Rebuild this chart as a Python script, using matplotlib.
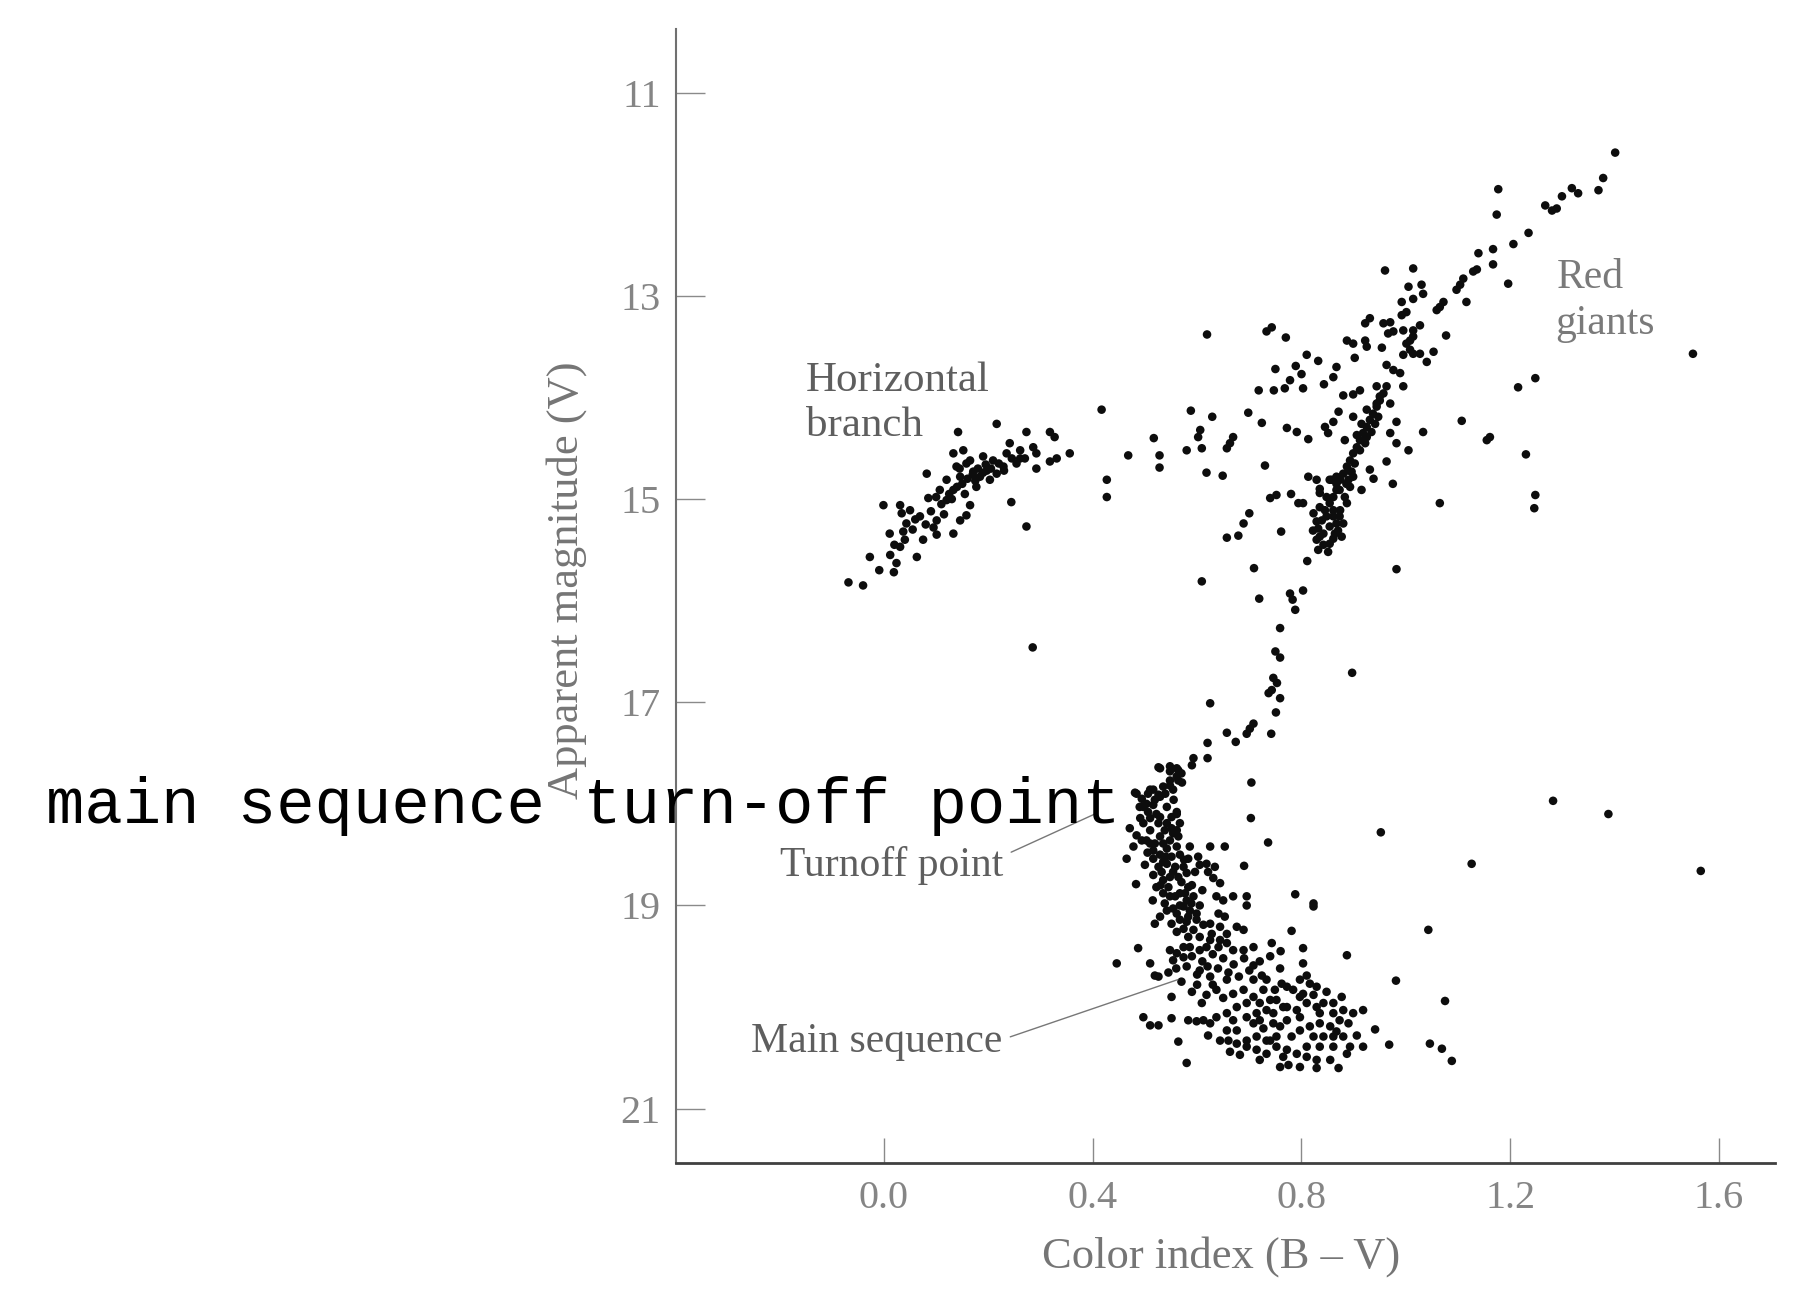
import matplotlib
matplotlib.use('Agg')
import matplotlib.pyplot as plt
import numpy as np

plt.rcParams['font.family'] = ['Liberation Serif', 'DejaVu Serif']

# (B-V, V)
hb_stars = [
    (-0.068, 15.82), (-0.040, 15.85), (-0.009, 15.70), (0.019, 15.72), (0.024, 15.63),
    (0.012, 15.55), (-0.027, 15.57), (0.031, 15.47), (0.063, 15.57), (0.011, 15.34),
    (0.037, 15.32), (0.043, 15.24), (0.034, 15.14), (-0.001, 15.06), (0.031, 15.06),
    (0.050, 15.11), (0.069, 15.17), (0.101, 15.21), (0.075, 15.40), (0.101, 15.35),
    (0.133, 15.34), (0.146, 15.21), (0.158, 15.16), (0.165, 15.06), (0.120, 15.01),
    (0.085, 14.99), (0.107, 14.91), (0.133, 14.91), (0.120, 14.81), (0.146, 14.78),
    (0.139, 14.68), (0.158, 14.65), (0.171, 14.73), (0.184, 14.78), (0.197, 14.72),
    (0.203, 14.81), (0.177, 14.88), (0.216, 14.75), (0.229, 14.68), (0.235, 14.55),
    (0.209, 14.62), (0.190, 14.58), (0.133, 14.55), (0.152, 14.52), (0.082, 14.75),
    (0.142, 14.34), (0.216, 14.26), (0.241, 14.45), (0.244, 15.03), (0.273, 14.34),
    (0.261, 14.52), (0.286, 14.49), (0.292, 14.55), (0.254, 14.65), (0.261, 14.60),
    (0.292, 14.70), (0.318, 14.63), (0.331, 14.60), (0.356, 14.55), (0.318, 14.34),
    (0.327, 14.39), (0.273, 15.27), (0.060, 15.20), (0.080, 15.25), (0.090, 15.12),
    (0.110, 15.05), (0.125, 14.95), (0.140, 14.88), (0.150, 14.85), (0.160, 14.80),
    (0.170, 14.76), (0.180, 14.70), (0.195, 14.66), (0.205, 14.70), (0.220, 14.65),
    (0.230, 14.72), (0.115, 15.15), (0.095, 15.28), (0.055, 15.30), (0.040, 15.40),
    (0.020, 15.45), (0.130, 15.00), (0.155, 14.95), (0.175, 14.82), (0.190, 14.74),
    (0.100, 14.98), (0.145, 14.70), (0.165, 14.62), (0.245, 14.60), (0.270, 14.60),
]

gap_stars = [
    (0.417, 14.12), (0.427, 14.81), (0.427, 14.98), (0.468, 14.57), (0.517, 14.40),
    (0.528, 14.57), (0.528, 14.69), (0.588, 14.13), (0.629, 14.19), (0.606, 14.32),
    (0.602, 14.39), (0.609, 14.50), (0.580, 14.52), (0.618, 14.74), (0.649, 14.77),
    (0.669, 14.39), (0.663, 14.45), (0.657, 14.50), (0.698, 14.15), (0.724, 14.25),
    (0.619, 13.38), (0.733, 13.35), (0.743, 13.31), (0.770, 13.41), (0.750, 13.72),
    (0.789, 13.69), (0.778, 13.83), (0.768, 13.91), (0.747, 13.93), (0.718, 13.93),
    (0.772, 14.30), (0.791, 14.34), (0.730, 14.67), (0.740, 14.99), (0.752, 14.96),
    (0.780, 14.95), (0.700, 15.14), (0.689, 15.24), (0.679, 15.36), (0.657, 15.38),
    (0.761, 15.32), (0.794, 15.04), (0.285, 16.46),
]

rgb_stars = [
    (0.800, 13.77), (0.810, 13.58), (0.832, 13.64), (0.803, 13.91), (0.843, 13.87),
    (0.867, 13.70), (0.861, 13.80), (0.887, 13.44), (0.899, 13.47), (0.922, 13.44),
    (0.925, 13.50), (0.902, 13.61), (0.954, 13.51), (0.922, 13.27), (0.931, 13.22),
    (0.957, 13.27), (0.970, 13.26), (0.966, 13.37), (0.976, 13.35), (0.995, 13.34),
    (1.014, 13.34), (1.014, 13.40), (1.008, 13.44), (1.027, 13.29), (1.001, 13.47),
    (1.008, 13.53), (0.995, 13.58), (1.014, 13.57), (1.027, 13.57), (1.040, 13.65),
    (0.992, 13.19), (1.001, 13.16), (0.992, 13.06), (1.014, 13.03), (1.005, 12.91),
    (1.030, 12.89), (1.033, 12.98), (0.960, 12.75), (1.014, 12.73), (0.963, 13.68),
    (0.976, 13.73), (0.989, 13.76), (0.995, 13.89), (0.880, 13.98), (0.899, 13.97),
    (0.912, 13.93), (0.944, 13.89), (0.963, 13.89), (0.950, 13.99), (0.970, 14.06),
    (0.944, 14.09), (0.925, 14.12), (0.871, 14.14), (0.899, 14.19), (0.861, 14.24),
    (0.883, 14.42), (0.845, 14.29), (0.851, 14.35), (0.813, 14.41), (0.982, 14.24),
    (0.970, 14.35), (0.982, 14.45), (1.005, 14.52), (1.033, 14.34), (0.963, 14.63),
    (0.931, 14.71), (0.915, 14.91), (0.813, 14.78), (0.829, 14.81), (0.835, 14.90),
    (0.975, 14.85), (0.938, 14.80),
    (0.874, 14.81), (0.880, 14.75), (0.887, 14.68), (0.893, 14.62), (0.899, 14.55),
    (0.906, 14.49), (0.912, 14.42), (0.918, 14.35), (0.925, 14.29), (0.931, 14.22),
    (0.937, 14.16), (0.944, 14.06), (0.950, 14.03), (0.957, 13.96), (0.912, 14.52),
    (0.922, 14.45), (0.902, 14.65), (0.890, 14.81), (0.867, 14.85), (0.858, 14.81),
    (0.925, 14.39), (0.934, 14.34), (0.915, 14.26), (0.906, 14.37), (0.941, 14.26),
    (0.947, 14.19), (0.896, 14.73),
    (0.803, 15.04), (0.835, 15.08), (0.854, 15.04), (0.861, 15.11), (0.873, 15.17),
    (0.848, 15.17), (0.867, 15.24), (0.880, 15.24), (0.822, 15.31), (0.835, 15.37),
    (0.829, 15.40), (0.861, 15.39), (0.842, 15.34), (0.861, 14.98), (0.873, 14.91),
    (0.886, 14.85), (0.854, 14.81), (0.867, 14.78), (0.832, 15.50), (0.851, 15.52),
    (0.811, 15.61), (0.823, 15.14), (0.839, 15.21), (0.854, 15.27), (0.870, 15.31),
    (0.861, 15.17), (0.845, 15.11), (0.829, 15.22), (0.874, 15.11), (0.887, 15.04),
    (0.832, 15.29), (0.854, 15.44), (0.842, 15.45), (0.864, 15.34), (0.877, 15.37),
    (0.848, 14.98), (0.835, 14.94), (0.867, 14.91), (0.883, 14.98), (0.893, 14.88),
    (0.899, 14.78), (0.890, 14.72),
    (1.401, 11.59), (1.378, 11.84), (1.369, 11.96), (1.330, 11.99), (1.318, 11.94),
    (1.299, 12.02), (1.267, 12.11), (1.280, 12.16), (1.289, 12.14), (1.177, 11.95),
    (1.174, 12.20), (1.235, 12.38), (1.206, 12.49), (1.167, 12.54), (1.139, 12.58),
    (1.167, 12.69), (1.136, 12.74), (1.129, 12.76), (1.110, 12.83), (1.104, 12.89),
    (1.097, 12.94), (1.116, 13.06), (1.072, 13.06), (1.059, 13.14), (1.065, 13.11),
    (1.196, 12.88), (1.077, 13.39), (1.053, 13.55),
]

field_stars = [
    (1.215, 13.90), (1.248, 13.81), (1.107, 14.23), (1.161, 14.39), (1.155, 14.42),
    (1.230, 14.56), (1.248, 14.96), (1.246, 15.09), (1.065, 15.04), (0.982, 15.69),
    (0.709, 15.68), (0.609, 15.81), (1.550, 13.57), (1.282, 17.97), (1.388, 18.10),
    (0.952, 18.28), (1.126, 18.59), (1.565, 18.66), (0.897, 16.71), (0.625, 17.01),
]

subgiant_stars = [
    (0.719, 15.98), (0.778, 15.93), (0.783, 15.99), (0.788, 16.09), (0.803, 15.90),
    (0.759, 16.27), (0.750, 16.50), (0.759, 16.56), (0.746, 16.76), (0.753, 16.81),
    (0.737, 16.91), (0.743, 16.88), (0.759, 16.96), (0.751, 17.10), (0.742, 17.31),
    (0.708, 17.21), (0.701, 17.26), (0.695, 17.31), (0.674, 17.39), (0.657, 17.30),
    (0.620, 17.40), (0.620, 17.55), (0.593, 17.55), (0.590, 17.62), (0.704, 17.79),
    (0.703, 18.14),
]

turnoff_stars = [
    (0.526, 17.64), (0.548, 17.63), (0.564, 17.67), (0.561, 17.73), (0.571, 17.79),
    (0.548, 17.77), (0.535, 17.83), (0.516, 17.86), (0.506, 17.90), (0.484, 17.90),
    (0.529, 17.93), (0.555, 17.96), (0.542, 18.03), (0.503, 18.00), (0.490, 18.03),
    (0.522, 18.10), (0.561, 18.10), (0.481, 17.89), (0.510, 17.86), (0.519, 17.96),
    (0.497, 18.03), (0.506, 18.08), (0.529, 18.13), (0.551, 18.13), (0.561, 18.08),
    (0.539, 17.90), (0.548, 17.82), (0.494, 17.95), (0.516, 18.01), (0.526, 17.91),
    (0.554, 17.86), (0.564, 17.77), (0.570, 17.70), (0.548, 17.68), (0.529, 17.65),
    (0.561, 17.65), (0.491, 18.14), (0.510, 18.14), (0.526, 18.19), (0.542, 18.19),
    (0.551, 18.24), (0.510, 18.39), (0.494, 18.36), (0.535, 18.39), (0.561, 18.26),
    (0.516, 18.54), (0.535, 18.57), (0.532, 18.67), (0.554, 18.67), (0.570, 18.77),
    (0.583, 18.82), (0.545, 18.82), (0.558, 18.91), (0.577, 18.88), (0.538, 18.98),
    (0.567, 19.00), (0.589, 18.98), (0.554, 19.03), (0.580, 19.16), (0.599, 19.14),
    (0.561, 19.26), (0.583, 19.31), (0.625, 19.18), (0.628, 19.28), (0.644, 19.34),
    (0.618, 19.41), (0.605, 19.44), (0.574, 19.41), (0.561, 19.47),
]

upper_ms_stars = [
    (0.471, 18.24), (0.484, 18.31), (0.478, 18.42), (0.465, 18.54), (0.483, 18.79),
    (0.497, 18.19), (0.510, 18.26), (0.503, 18.36), (0.519, 18.39), (0.516, 18.46),
    (0.529, 18.50), (0.542, 18.44), (0.548, 18.36), (0.529, 18.32), (0.538, 18.26),
    (0.554, 18.29), (0.567, 18.19), (0.564, 18.32), (0.561, 18.42), (0.551, 18.52),
    (0.567, 18.50), (0.586, 18.42), (0.583, 18.54), (0.602, 18.52), (0.574, 18.62),
    (0.558, 18.62), (0.542, 18.59), (0.526, 18.62), (0.516, 18.70), (0.522, 18.82),
    (0.535, 18.75), (0.548, 18.72), (0.564, 18.72), (0.580, 18.68), (0.596, 18.67),
    (0.605, 18.60), (0.618, 18.59), (0.621, 18.67), (0.634, 18.62), (0.644, 18.78),
    (0.631, 18.73), (0.535, 18.88), (0.548, 18.91), (0.567, 18.88), (0.580, 18.95),
    (0.593, 18.91), (0.605, 19.00), (0.586, 19.05), (0.574, 19.01), (0.561, 19.08),
    (0.542, 19.05), (0.529, 19.11), (0.519, 19.18), (0.551, 19.18), (0.567, 19.14),
    (0.583, 19.11), (0.599, 19.08), (0.612, 19.19), (0.593, 19.24), (0.574, 19.23),
    (0.605, 19.31), (0.625, 19.34), (0.586, 19.41), (0.548, 19.44), (0.487, 19.42),
    (0.637, 18.91), (0.650, 18.95), (0.669, 18.91), (0.695, 18.91), (0.695, 19.00),
    (0.653, 19.11), (0.641, 19.08), (0.644, 19.21), (0.657, 19.28), (0.676, 19.21),
    (0.689, 19.24), (0.641, 19.41), (0.657, 19.37), (0.669, 19.44), (0.689, 19.44),
    (0.708, 19.41), (0.743, 19.37), (0.625, 18.42), (0.653, 18.42), (0.690, 18.61),
    (0.736, 18.38), (0.788, 18.89), (0.823, 18.98), (0.823, 19.01), (0.781, 19.25),
    (0.803, 19.42), (0.887, 19.49),
    (0.590, 19.50), (0.610, 19.55), (0.630, 19.48), (0.650, 19.52), (0.670, 19.58),
    (0.690, 19.52), (0.640, 19.62), (0.600, 19.68), (0.660, 19.66), (0.680, 19.70),
    (0.700, 19.64), (0.720, 19.55), (0.740, 19.50), (0.760, 19.45), (0.620, 19.60),
    (0.580, 19.60), (0.560, 19.62), (0.545, 19.66), (0.600, 19.78), (0.630, 19.78),
    (0.590, 19.85), (0.570, 19.75), (0.530, 18.80), (0.515, 18.95), (0.500, 18.60),
    (0.505, 18.48), (0.540, 18.52), (0.575, 18.55), (0.590, 18.80), (0.610, 18.85),
]

lower_ms_stars = [
    (0.446, 19.57), (0.510, 19.57), (0.519, 19.69), (0.526, 19.70), (0.551, 19.90),
    (0.497, 20.10), (0.510, 20.18), (0.526, 20.18), (0.551, 20.11), (0.583, 20.13),
    (0.599, 20.14), (0.612, 20.13), (0.564, 20.34), (0.621, 20.28), (0.644, 20.33),
    (0.660, 20.33), (0.663, 20.44), (0.682, 20.47), (0.580, 20.55), (0.609, 19.96),
    (0.618, 19.88), (0.637, 19.83), (0.657, 19.73), (0.605, 19.64), (0.625, 19.70),
    (0.650, 19.91), (0.669, 19.87), (0.689, 19.83), (0.708, 19.73), (0.724, 19.69),
    (0.733, 19.73), (0.749, 19.83), (0.762, 19.77), (0.740, 19.93), (0.720, 19.96),
    (0.695, 19.96), (0.676, 20.00), (0.657, 20.06), (0.669, 20.13), (0.695, 20.10),
    (0.714, 20.06), (0.733, 20.03), (0.752, 19.93), (0.765, 20.00), (0.784, 19.83),
    (0.772, 19.80), (0.797, 19.73), (0.810, 19.69), (0.816, 19.77), (0.797, 19.90),
    (0.810, 19.96), (0.829, 20.00), (0.848, 19.85), (0.877, 19.90), (0.861, 20.06),
    (0.835, 20.06), (0.797, 20.10), (0.772, 20.13), (0.746, 20.16), (0.727, 20.21),
    (0.714, 20.29), (0.695, 20.33), (0.733, 20.33), (0.752, 20.29), (0.759, 20.19),
    (0.781, 20.29), (0.797, 20.23), (0.816, 20.19), (0.835, 20.16), (0.855, 20.19),
    (0.867, 20.24), (0.890, 20.16), (0.906, 20.28), (0.887, 20.46), (0.871, 20.60),
    (0.855, 20.52), (0.829, 20.52), (0.810, 20.39), (0.791, 20.46), (0.772, 20.42),
    (0.752, 20.39), (0.733, 20.46), (0.714, 20.42), (0.695, 20.39), (0.775, 20.57),
    (0.835, 20.39), (0.861, 20.39), (0.918, 20.39), (0.918, 20.03), (0.941, 20.22),
    (0.968, 20.37), (1.046, 20.36), (1.069, 20.41), (1.088, 20.53), (1.075, 19.94),
    (0.981, 19.74), (1.043, 19.24), (0.574, 19.51), (0.759, 19.62), (0.803, 19.57),
    (0.708, 19.59), (0.554, 19.54), (0.625, 20.16), (0.637, 20.10), (0.676, 20.23),
    (0.708, 20.16), (0.720, 20.13), (0.746, 20.06), (0.772, 20.00), (0.791, 20.03),
    (0.803, 19.87), (0.823, 19.88), (0.829, 19.80), (0.842, 19.96), (0.861, 19.96),
    (0.880, 20.03), (0.899, 20.06), (0.873, 20.13), (0.823, 20.29), (0.842, 20.29),
    (0.810, 20.49), (0.829, 20.60), (0.797, 20.59), (0.765, 20.49), (0.740, 20.33),
    (0.759, 20.59), (0.861, 20.29), (0.880, 20.29), (0.893, 20.39), (0.720, 20.52),
    (0.676, 20.36), (0.657, 20.23), (0.708, 19.90), (0.727, 19.83),
]

xticks = [0.0, 0.4, 0.8, 1.2, 1.6]
xtick_labels = ['0.0', '0.4', '0.8', '1.2', '1.6']
yticks = [11, 13, 15, 17, 19, 21]
ytick_labels = ['11', '13', '15', '17', '19', '21']

groups = [hb_stars, gap_stars, rgb_stars, field_stars, subgiant_stars,
          turnoff_stars, upper_ms_stars, lower_ms_stars]

fig = plt.figure(figsize=(17.93, 12.97), dpi=100)
ax = fig.add_axes([0.3770, 0.1033, 0.6129, 0.8746])

for stars in groups:
    pts = np.array(stars)
    ax.scatter(pts[:, 0], pts[:, 1], s=38, c='#0d0d0d', edgecolors='none', zorder=3)

ax.set_xlim(-0.3985, 1.707)
ax.set_ylim(21.535, 10.37)

ax.set_xticks(xticks)
ax.set_xticklabels(xtick_labels)
ax.set_yticks(yticks)
ax.set_yticklabels(ytick_labels)

for side in ['top', 'right']:
    ax.spines[side].set_visible(False)
ax.spines['left'].set_color('#707070')
ax.spines['left'].set_linewidth(1.5)
ax.spines['bottom'].set_color('#404040')
ax.spines['bottom'].set_linewidth(2)

ax.tick_params(axis='y', direction='in', length=21, width=1.0, color='#8a8a8a',
               labelsize=29, labelcolor='#858585', pad=11)
ax.tick_params(axis='x', direction='in', length=18, width=1.0, color='#8a8a8a',
               labelsize=29, labelcolor='#858585', pad=12)

label_color = '#5e5e5e'
ax.text(-0.149, 13.94, 'Horizontal', fontsize=31, color=label_color, ha='left', va='baseline')
ax.text(-0.149, 14.38, 'branch', fontsize=31, color=label_color, ha='left', va='baseline')
ax.text(1.290, 12.92, 'Red', fontsize=30, color='#7a7a7a', ha='left', va='baseline')
ax.text(1.286, 13.38, 'giants', fontsize=30, color='#7a7a7a', ha='left', va='baseline')

ax.annotate('Turnoff point', xy=(0.404, 18.10), xytext=(-0.199, 18.71),
            fontsize=30, color=label_color, ha='left', va='baseline',
            arrowprops=dict(arrowstyle='-', color='#777777', lw=1.0,
                            relpos=(1.0, 0.75), shrinkA=4, shrinkB=0))
ax.annotate('Main sequence', xy=(0.563, 19.73), xytext=(-0.255, 20.44),
            fontsize=30, color=label_color, ha='left', va='baseline',
            arrowprops=dict(arrowstyle='-', color='#777777', lw=1.0,
                            relpos=(1.0, 0.55), shrinkA=4, shrinkB=0))

fig.text(0.3157, 0.553, 'Apparent magnitude (V)', rotation=90, fontsize=32,
         color='#757575', ha='center', va='center')
fig.text(0.681, 0.0316, 'Color index (B \u2013 V)', fontsize=32,
         color='#757575', ha='center', va='center')

fig.text(0.0255, 0.3655, 'main sequence turn-off point', fontsize=46,
         family='Liberation Mono', color='black', ha='left', va='baseline', zorder=10)

fig.savefig('out.png', dpi=100)
